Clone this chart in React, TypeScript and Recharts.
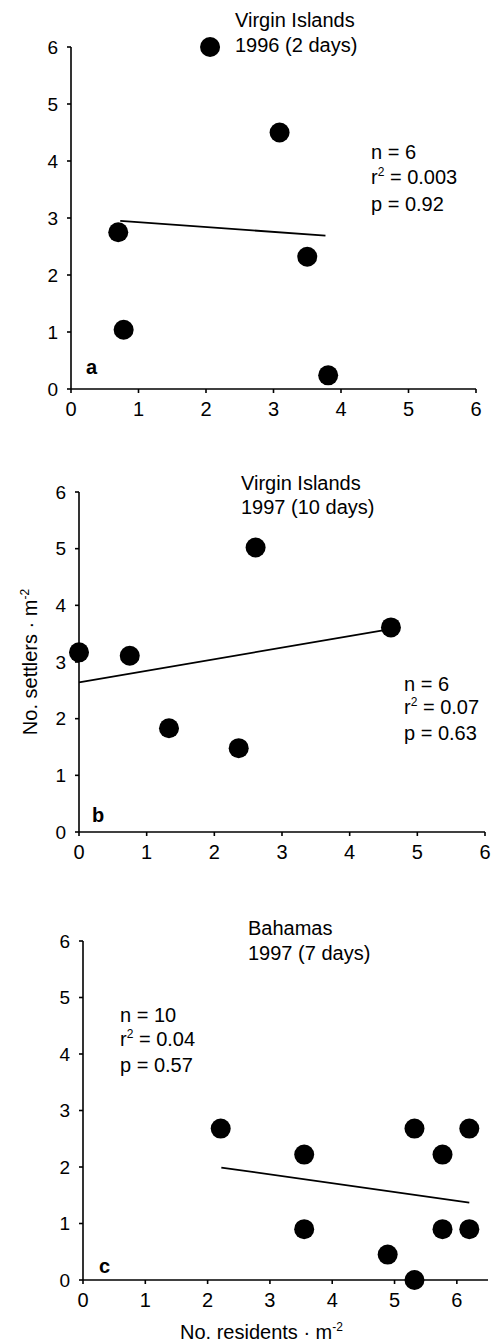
import React from "react";
import { ComposedChart, Line, Scatter, XAxis, YAxis } from "recharts";

const axisTicks = [0, 1, 2, 3, 4, 5, 6];

// panel a: Virgin Islands 1996
const pointsA = [
  { x: 2.06, y: 6.0 },
  { x: 3.09, y: 4.5 },
  { x: 0.7, y: 2.75 },
  { x: 3.5, y: 2.32 },
  { x: 0.78, y: 1.04 },
  { x: 3.81, y: 0.24 },
];
const fitA = [
  { x: 0.73, y: 2.95 },
  { x: 3.77, y: 2.69 },
];

// panel b: Virgin Islands 1997
const pointsB = [
  { x: 0, y: 3.17 },
  { x: 0.75, y: 3.11 },
  { x: 2.61, y: 5.02 },
  { x: 4.61, y: 3.61 },
  { x: 1.33, y: 1.83 },
  { x: 2.36, y: 1.48 },
];
const fitB = [
  { x: 0, y: 2.64 },
  { x: 4.6, y: 3.58 },
];

// panel c: Bahamas 1997
const pointsC = [
  { x: 2.21, y: 2.68 },
  { x: 3.55, y: 2.22 },
  { x: 3.55, y: 0.9 },
  { x: 5.32, y: 2.68 },
  { x: 5.77, y: 2.22 },
  { x: 6.2, y: 2.68 },
  { x: 5.77, y: 0.9 },
  { x: 6.2, y: 0.9 },
  { x: 4.89, y: 0.45 },
  { x: 5.32, y: 0.0 },
];
const fitC = [
  { x: 2.22, y: 1.99 },
  { x: 6.2, y: 1.37 },
];

const FONT = '"Liberation Sans", Arial, Helvetica, sans-serif';

const Dot = (props: any) => <circle cx={props.cx} cy={props.cy} r={10} fill="#000" />;

interface PanelProps {
  top: number;
  points: { x: number; y: number }[];
  fit: { x: number; y: number }[];
  xMax: number;
  margin: { top: number; right: number; bottom: number; left: number };
}

function Panel({ top, points, fit, xMax, margin }: PanelProps) {
  const axisStyle = { stroke: "#000", strokeWidth: 1.6 };
  return (
    <div style={{ position: "absolute", left: 0, top, width: 495, height: 440 }}>
      <ComposedChart width={495} height={440} margin={margin}>
        <XAxis
          type="number"
          dataKey="x"
          domain={[0, xMax]}
          ticks={axisTicks}
          interval={0}
          height={40}
          tickSize={4}
          tickMargin={9}
          tick={{ fill: "#000", fontSize: 20, fontFamily: FONT }}
          axisLine={axisStyle}
          tickLine={axisStyle}
        />
        <YAxis
          type="number"
          dataKey="y"
          domain={[0, 6]}
          ticks={axisTicks}
          interval={0}
          width={60}
          tickSize={4}
          tickMargin={9}
          tick={{ fill: "#000", fontSize: 19, fontFamily: FONT }}
          axisLine={axisStyle}
          tickLine={axisStyle}
        />
        <Line
          data={fit}
          dataKey="y"
          stroke="#000"
          strokeWidth={1.8}
          dot={false}
          activeDot={false}
          isAnimationActive={false}
        />
        <Scatter data={points} dataKey="y" shape={Dot} isAnimationActive={false} />
      </ComposedChart>
    </div>
  );
}

const Sup = ({ children }: { children: React.ReactNode }) => (
  <span style={{ fontSize: 12, position: "relative", top: -8 }}>{children}</span>
);

function Txt({
  left,
  top,
  lh,
  bold,
  children,
}: {
  left: number;
  top: number;
  lh: number;
  bold?: boolean;
  children: React.ReactNode;
}) {
  return (
    <div
      style={{
        position: "absolute",
        left,
        top,
        fontSize: 20,
        lineHeight: `${lh}px`,
        fontWeight: bold ? 700 : 400,
        fontFamily: FONT,
        color: "#000",
        whiteSpace: "nowrap",
      }}
    >
      {children}
    </div>
  );
}

export default function App() {
  return (
    <div
      style={{
        position: "absolute",
        left: 0,
        top: 0,
        width: 495,
        height: 1344,
        background: "#fff",
        overflow: "hidden",
      }}
    >
      <Panel
        top={0}
        points={pointsA}
        fit={fitA}
        xMax={6}
        margin={{ top: 47, right: 19, bottom: 11, left: 11 }}
      />
      <Panel
        top={448}
        points={pointsB}
        fit={fitB}
        xMax={6}
        margin={{ top: 44, right: 10, bottom: 16, left: 19 }}
      />
      <Panel
        top={896}
        points={pointsC}
        fit={fitC}
        xMax={6.5}
        margin={{ top: 45, right: 7, bottom: 16, left: 23 }}
      />

      <Txt left={235} top={7.6} lh={25}>
        Virgin Islands
        <br />
        1996 (2 days)
      </Txt>
      <Txt left={371} top={140} lh={24.5}>
        n = 6
        <br />
        r<Sup>2</Sup> = 0.003
        <br />p = 0.92
      </Txt>
      <Txt left={86} top={355} lh={24} bold>
        a
      </Txt>

      <Txt left={241} top={471} lh={24}>
        Virgin Islands
        <br />
        1997 (10 days)
      </Txt>
      <Txt left={404} top={673} lh={23}>
        n = 6
        <br />
        r<Sup>2</Sup> = 0.07
        <br />p = 0.63
      </Txt>
      <Txt left={92} top={803} lh={24} bold>
        b
      </Txt>
      <div
        style={{
          position: "absolute",
          left: 30 - 100,
          top: 662 - 12,
          width: 200,
          height: 24,
          lineHeight: "24px",
          fontSize: 20,
          fontFamily: FONT,
          textAlign: "center",
          transform: "rotate(-90deg)",
          whiteSpace: "nowrap",
        }}
      >
        No. settlers · m<Sup>-2</Sup>
      </div>

      <Txt left={248} top={915.6} lh={25}>
        Bahamas
        <br />
        1997 (7 days)
      </Txt>
      <Txt left={120} top={1004} lh={23.7}>
        n = 10
        <br />
        r<Sup>2</Sup> = 0.04
        <br />p = 0.57
      </Txt>
      <Txt left={99} top={1254} lh={24} bold>
        c
      </Txt>
      <Txt left={180} top={1319.5} lh={24}>
        No. residents · m<Sup>-2</Sup>
      </Txt>
    </div>
  );
}
